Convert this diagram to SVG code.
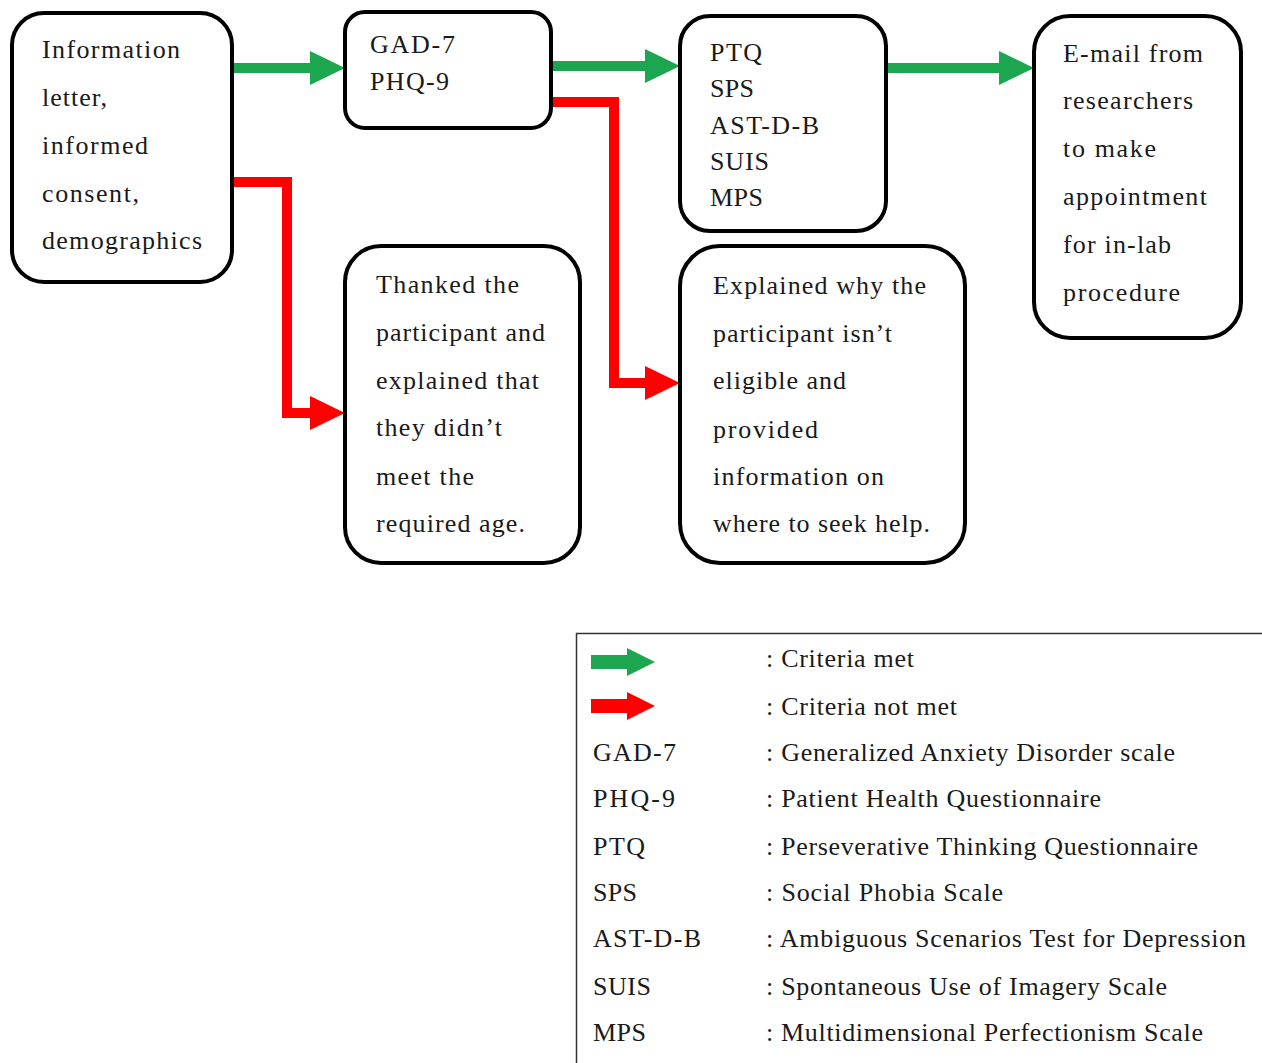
<svg xmlns="http://www.w3.org/2000/svg" width="1262" height="1063" viewBox="0 0 1262 1063" font-family="Liberation Serif, DejaVu Serif, serif" font-size="26">
<style>
.box{fill:#fff;stroke:#000;stroke-width:4}
text{fill:#1a1a1a}
.g{fill:none;stroke:#1DA650;stroke-width:10}
.r{fill:none;stroke:#F00;stroke-width:10;stroke-linejoin:miter}
</style>
<defs>
<marker id="hg" markerUnits="userSpaceOnUse" markerWidth="36" markerHeight="36" refX="0" refY="17" orient="auto"><path d="M0,0 L35,17 L0,34 z" fill="#1DA650"/></marker>
<marker id="hr" markerUnits="userSpaceOnUse" markerWidth="36" markerHeight="36" refX="0" refY="17" orient="auto"><path d="M0,0 L35,17 L0,34 z" fill="#F00"/></marker>
</defs>
<rect width="1262" height="1063" fill="#fff"/>

<g id="connectors">
<path class="g" d="M232,68 H310" marker-end="url(#hg)"/>
<path class="g" d="M551,66 H645" marker-end="url(#hg)"/>
<path class="g" d="M886,68 H999" marker-end="url(#hg)"/>
<path class="r" d="M232,182 H287 V413 H310" marker-end="url(#hr)"/>
<path class="r" d="M551,102 H614 V383 H645" marker-end="url(#hr)"/>
</g>

<g id="n-info">
<rect class="box" x="12" y="13" width="220" height="269" rx="32"/>
<text x="42" y="58" textLength="138" lengthAdjust="spacing">Information</text>
<text x="42" y="106" textLength="65" lengthAdjust="spacing">letter,</text>
<text x="42" y="154" textLength="106" lengthAdjust="spacing">informed</text>
<text x="42" y="202" textLength="97" lengthAdjust="spacing">consent,</text>
<text x="42" y="249" textLength="160" lengthAdjust="spacing">demographics</text>
</g>

<g id="n-gad">
<rect class="box" x="345" y="12" width="206" height="116" rx="20"/>
<text x="370" y="53" textLength="85" lengthAdjust="spacing">GAD-7</text>
<text x="370" y="90" textLength="79" lengthAdjust="spacing">PHQ-9</text>
</g>

<g id="n-ptq">
<rect class="box" x="680" y="16" width="206" height="215" rx="30"/>
<text x="710" y="61" textLength="52" lengthAdjust="spacing">PTQ</text>
<text x="710" y="97" textLength="44" lengthAdjust="spacing">SPS</text>
<text x="710" y="134" textLength="109" lengthAdjust="spacing">AST-D-B</text>
<text x="710" y="170" textLength="59" lengthAdjust="spacing">SUIS</text>
<text x="710" y="206" textLength="53" lengthAdjust="spacing">MPS</text>
</g>

<g id="n-email">
<rect class="box" x="1034" y="16" width="207" height="322" rx="36"/>
<text x="1063" y="62" textLength="140" lengthAdjust="spacing">E-mail from</text>
<text x="1063" y="109" textLength="130" lengthAdjust="spacing">researchers</text>
<text x="1063" y="157" textLength="93" lengthAdjust="spacing">to make</text>
<text x="1063" y="205" textLength="144" lengthAdjust="spacing">appointment</text>
<text x="1063" y="253" textLength="108" lengthAdjust="spacing">for in-lab</text>
<text x="1063" y="301" textLength="117" lengthAdjust="spacing">procedure</text>
</g>

<g id="n-thanked">
<rect class="box" x="345" y="246" width="235" height="317" rx="36"/>
<text x="376" y="293" textLength="143" lengthAdjust="spacing">Thanked the</text>
<text x="376" y="341" textLength="169" lengthAdjust="spacing">participant and</text>
<text x="376" y="389" textLength="163" lengthAdjust="spacing">explained that</text>
<text x="376" y="436" textLength="126" lengthAdjust="spacing">they didn’t</text>
<text x="376" y="485" textLength="98" lengthAdjust="spacing">meet the</text>
<text x="376" y="532" textLength="149" lengthAdjust="spacing">required age.</text>
</g>

<g id="n-explained">
<rect class="box" x="680" y="246" width="285" height="317" rx="40"/>
<text x="713" y="294" textLength="213" lengthAdjust="spacing">Explained why the</text>
<text x="713" y="342" textLength="179" lengthAdjust="spacing">participant isn’t</text>
<text x="713" y="389" textLength="133" lengthAdjust="spacing">eligible and</text>
<text x="713" y="438" textLength="105" lengthAdjust="spacing">provided</text>
<text x="713" y="485" textLength="171" lengthAdjust="spacing">information on</text>
<text x="713" y="532" textLength="217" lengthAdjust="spacing">where to seek help.</text>
</g>

<g id="legend">
<rect x="576.5" y="633.5" width="700" height="450" fill="#fff" stroke="#333" stroke-width="1.5"/>
<polygon points="591,655 627,655 627,648 655,662 627,676 627,669 591,669" fill="#1DA650"/>
<polygon points="591,699 627,699 627,692 655,706 627,720 627,713 591,713" fill="#F00"/>
<text x="766" y="667" textLength="148" lengthAdjust="spacing">: Criteria met</text>
<text x="766" y="715" textLength="191" lengthAdjust="spacing">: Criteria not met</text>
<text x="593" y="761" textLength="83" lengthAdjust="spacing">GAD-7</text>
<text x="766" y="761" textLength="409" lengthAdjust="spacing">: Generalized Anxiety Disorder scale</text>
<text x="593" y="807" textLength="82" lengthAdjust="spacing">PHQ-9</text>
<text x="766" y="807" textLength="335" lengthAdjust="spacing">: Patient Health Questionnaire</text>
<text x="593" y="855" textLength="52" lengthAdjust="spacing">PTQ</text>
<text x="766" y="855" textLength="432" lengthAdjust="spacing">: Perseverative Thinking Questionnaire</text>
<text x="593" y="901" textLength="44" lengthAdjust="spacing">SPS</text>
<text x="766" y="901" textLength="237" lengthAdjust="spacing">: Social Phobia Scale</text>
<text x="593" y="947" textLength="108" lengthAdjust="spacing">AST-D-B</text>
<text x="766" y="947" textLength="480" lengthAdjust="spacing">: Ambiguous Scenarios Test for Depression</text>
<text x="593" y="995" textLength="58" lengthAdjust="spacing">SUIS</text>
<text x="766" y="995" textLength="401" lengthAdjust="spacing">: Spontaneous Use of Imagery Scale</text>
<text x="593" y="1041" textLength="53" lengthAdjust="spacing">MPS</text>
<text x="766" y="1041" textLength="437" lengthAdjust="spacing">: Multidimensional Perfectionism Scale</text>
</g>
</svg>
